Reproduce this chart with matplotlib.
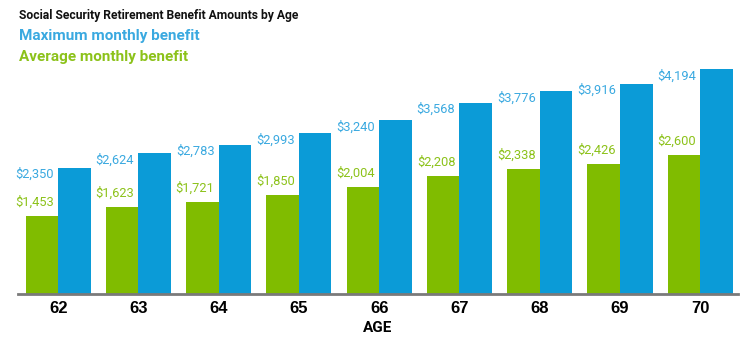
import matplotlib
matplotlib.use("Agg")
import matplotlib.pyplot as plt
from matplotlib import font_manager as fm

ages = ["62", "63", "64", "65", "66", "67", "68", "69", "70"]
max_benefit = [2350, 2624, 2783, 2993, 3240, 3568, 3776, 3916, 4194]
avg_benefit = [1453, 1623, 1721, 1850, 2004, 2208, 2338, 2426, 2600]

title = "Social Security Retirement Benefit Amounts by Age"
legend_max = "Maximum monthly benefit"
legend_avg = "Average monthly benefit"
xlabel = "AGE"

BLUE = "#0B9BD7"
GREEN = "#80BC00"
BLUE_TXT = "#3AA9E0"
GREEN_TXT = "#8CC21A"

names = {f.name for f in fm.fontManager.ttflist}
narrow = "Roboto" if "Roboto" in names else "DejaVu Sans"
sans = "Liberation Sans" if "Liberation Sans" in names else "DejaVu Sans"

W, H = 752, 342
fig = plt.figure(figsize=(W / 100, H / 100), dpi=100)
ax = fig.add_axes([18 / W, 48 / H, 720 / W, 236 / H])

x = list(range(len(ages)))
bw = 0.405
ax.bar([i - bw / 2 for i in x], avg_benefit, width=bw, color=GREEN, zorder=2)
ax.bar([i + bw / 2 for i in x], max_benefit, width=bw, color=BLUE, zorder=2)

ax.set_xlim(-0.5, 8.47)
ax.set_ylim(0, 4400)

for i in x:
    ax.annotate(f"${max_benefit[i]:,}", (i, max_benefit[i]), xytext=(-3, 0),
                textcoords="offset points", ha="right", va="top",
                color=BLUE_TXT, fontsize=9.3, family=narrow)
    ax.annotate(f"${avg_benefit[i]:,}", (i, avg_benefit[i]), xytext=(-3, 5),
                textcoords="offset points", ha="right", va="bottom",
                color=GREEN_TXT, fontsize=9.3, family=narrow)

for s in ["top", "right", "left"]:
    ax.spines[s].set_visible(False)
ax.spines["bottom"].set_color("#7a7a7a")
ax.spines["bottom"].set_linewidth(2)
ax.set_yticks([])
ax.set_xticks(x)
ax.set_xticklabels(ages, fontsize=12, fontweight="bold", family=sans)
ax.tick_params(axis="x", length=0, pad=5)
ax.set_xlabel(xlabel, fontsize=11, fontweight="bold", family=narrow, labelpad=4)

fig.text(19 / W, 1 - 15 / H, title, fontsize=8.7, fontweight="bold",
         family=narrow, va="center", ha="left", color="#111111")
fig.text(19 / W, 1 - 36 / H, legend_max, fontsize=11, fontweight="bold",
         family=narrow, va="center", ha="left", color=BLUE_TXT)
fig.text(19 / W, 1 - 57 / H, legend_avg, fontsize=11, fontweight="bold",
         family=narrow, va="center", ha="left", color=GREEN_TXT)

fig.savefig("out.png", dpi=100)
